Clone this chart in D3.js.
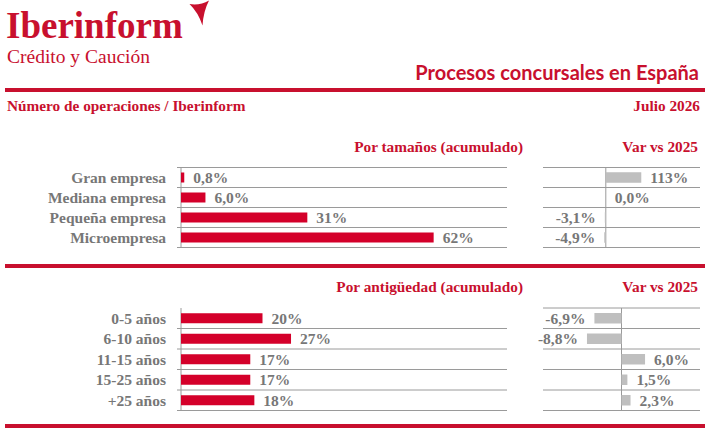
<!DOCTYPE html>
<html>
<head>
<meta charset="utf-8">
<script src="https://cdn.jsdelivr.net/npm/d3@7"></script>
<style>
  body { margin: 0; background: #fff; }
  svg { display: block; }
  .serif { font-family: "Liberation Serif", "Times New Roman", serif; font-weight: bold; }
</style>
</head>
<body>
<svg id="chart" width="720" height="436"></svg>
<script>
// data
const sizeCats = ["Gran empresa", "Mediana empresa", "Pequeña empresa", "Microempresa"];
const sizeShare = [0.8, 6.0, 31, 62];
const sizeVar = [113, 0.0, -3.1, -4.9];

const ageCats = ["0-5 años", "6-10 años", "11-15 años", "15-25 años", "+25 años"];
const ageShare = [20, 27, 17, 17, 18];
const ageVar = [-6.9, -8.8, 6.0, 1.5, 2.3];

const RED = "#c8102e";
const BAR_RED = "#d4002a";
const GREY_TXT = "#777777";
const GREY_BAR = "#bfbfbf";
const GRID = "#9a9a9a";

const svg = d3.select("#chart");
const loc = d3.formatLocale({decimal: ",", thousands: ".", grouping: [3], currency: ["", "€"], minus: "-"});
const f1 = loc.format(".1f"), f0 = loc.format(".0f");
//values under 10 keep one decimal, the rest are rounded
function pct(v) { return (Math.abs(v) < 10 ? f1(v) : f0(v)) + "%"; }

// ---- header ----
svg.append("text").attr("class", "serif")
  .attr("x", 6).attr("y", 38)
  .attr("font-size", 37).attr("fill", RED)
  .text("Iberinform");
//logo mark (three pointed swoosh)
svg.append("path")
  .attr("d", "M189.5,4 Q200,5.6 209,0.5 Q203.4,11.4 202.5,25.5 Q198.2,12.4 189.5,4 Z")
  .attr("fill", RED);
svg.append("text")
  .attr("x", 7).attr("y", 63)
  .attr("font-family", "Liberation Serif, serif")
  .attr("font-size", 19.5).attr("fill", RED)
  .text("Crédito y Caución");

svg.append("text")
  .attr("x", 699).attr("y", 80).attr("text-anchor", "end")
  .attr("font-family", "Lato, sans-serif").attr("font-weight", "bold")
  .attr("font-size", 20).attr("fill", RED)
  .text("Procesos concursales en España");

//red separators
[90, 266, 426].forEach(function(y) {
  svg.append("rect").attr("x", 5).attr("y", y - 2).attr("width", 700).attr("height", 4).attr("fill", RED);
});

svg.append("text").attr("class", "serif")
  .attr("x", 7).attr("y", 111).attr("font-size", 15.3).attr("fill", RED)
  .text("Número de operaciones / Iberinform");
svg.append("text").attr("class", "serif")
  .attr("x", 700).attr("y", 111).attr("text-anchor", "end").attr("font-size", 15.3).attr("fill", RED)
  .text("Julio 2026");

// ---- panels ----
const shareX = d3.scaleLinear().domain([0, 80]).range([181, 507]);
const sizeVarX = d3.scaleLinear().domain([-200, 300]).range([543, 700]);
const ageVarX = d3.scaleLinear().domain([-20, 20]).range([543, 700]);

//draws one block of horizontal bars with its gridlines, axis and value labels
function draw_panel(cats, values, x, y, opts) {
  const g = svg.append("g");
  const x0 = x(0);
  const lineStart = opts.lineStart;
  const lineEnd = x.range()[1];

  //row separators
  const edges = cats.map(function(c) { return y(c) + y.step(); });
  if (opts.topLine) edges.unshift(y.range()[0]);
  g.selectAll("line.grid").data(edges).join("line")
    .attr("class", "grid")
    .attr("x1", lineStart).attr("x2", lineEnd)
    .attr("y1", function(d) { return d; }).attr("y2", function(d) { return d; })
    .attr("stroke", GRID).attr("stroke-width", 1);

  //zero axis
  g.append("line")
    .attr("x1", x0).attr("x2", x0)
    .attr("y1", y.range()[0]).attr("y2", y.range()[1])
    .attr("stroke", GRID).attr("stroke-width", 1);

  const bh = opts.barHeight;
  g.selectAll("rect.bar").data(values).join("rect")
    .attr("class", "bar")
    .attr("x", function(d) { return Math.min(x(d), x0); })
    .attr("width", function(d) { return Math.max(Math.abs(x(d) - x0), 0); })
    .attr("y", function(d, i) { return y(cats[i]) + y.step() / 2 - bh / 2; })
    .attr("height", bh)
    .attr("fill", opts.color);

  g.selectAll("text.val").data(values).join("text")
    .attr("class", "serif val")
    .attr("x", function(d) { return d < 0 ? x(d) - 9 : x(d) + 9; })
    .attr("y", function(d, i) { return y(cats[i]) + y.step() / 2; })
    .attr("dy", "0.36em")
    .attr("text-anchor", function(d) { return d < 0 ? "end" : "start"; })
    .attr("font-size", 15.5).attr("fill", GREY_TXT)
    .text(pct);

  if (opts.labels) {
    g.selectAll("text.cat").data(cats).join("text")
      .attr("class", "serif cat")
      .attr("x", 166)
      .attr("y", function(c) { return y(c) + y.step() / 2; })
      .attr("dy", "0.36em")
      .attr("text-anchor", "end")
      .attr("font-size", 15.5).attr("fill", GREY_TXT)
      .text(function(c) { return c; });
  }
}

function section_title(txt, x, y) {
  svg.append("text").attr("class", "serif")
    .attr("x", x).attr("y", y).attr("text-anchor", "end")
    .attr("font-size", 15.3).attr("fill", RED)
    .text(txt);
}

// by size
section_title("Por tamaños (acumulado)", 523, 152);
section_title("Var vs 2025", 698, 152);
const sizeY = d3.scaleBand().domain(sizeCats).range([167.5, 247.5]);
draw_panel(sizeCats, sizeShare, shareX, sizeY, {lineStart: 177, topLine: true, barHeight: 10, color: BAR_RED, labels: true});
draw_panel(sizeCats, sizeVar, sizeVarX, sizeY, {lineStart: 543, topLine: true, barHeight: 10.5, color: GREY_BAR, labels: false});

// by age
section_title("Por antigüedad (acumulado)", 523, 292);
section_title("Var vs 2025", 698, 292);
const ageY = d3.scaleBand().domain(ageCats).range([308, 410.5]);
draw_panel(ageCats, ageShare, shareX, ageY, {lineStart: 177, topLine: false, barHeight: 10, color: BAR_RED, labels: true});
draw_panel(ageCats, ageVar, ageVarX, ageY, {lineStart: 543, topLine: true, barHeight: 10.5, color: GREY_BAR, labels: false});
</script>
</body>
</html>
